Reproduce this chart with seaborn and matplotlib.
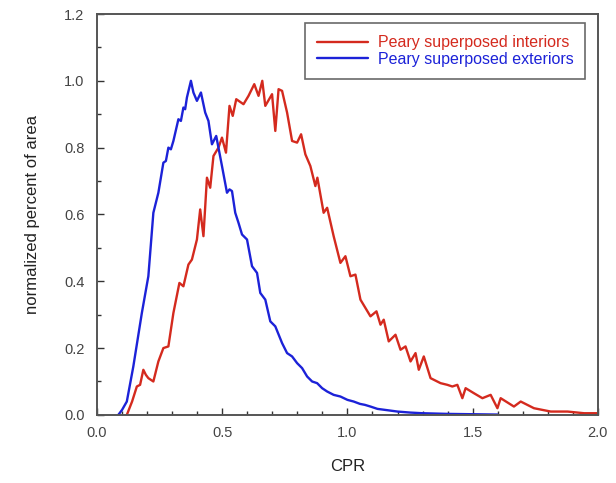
import matplotlib
matplotlib.use("Agg")
import matplotlib.pyplot as plt
import seaborn as sns
import pandas as pd
from matplotlib.ticker import MultipleLocator

sns.set_style("ticks")
plt.rcParams['font.family'] = ['Liberation Sans', 'DejaVu Sans']

exterior_x = [0.085, 0.10, 0.119, 0.145, 0.179, 0.205, 0.225, 0.245, 0.265, 0.275, 0.285, 0.295,
              0.305, 0.325, 0.335, 0.345, 0.352, 0.359, 0.375, 0.385, 0.399, 0.415, 0.432, 0.445,
              0.459, 0.476, 0.499, 0.519, 0.529, 0.539, 0.552, 0.565, 0.579, 0.599, 0.619, 0.639,
              0.652, 0.672, 0.692, 0.712, 0.739, 0.759, 0.779, 0.799, 0.819, 0.839, 0.859, 0.879,
              0.899, 0.919, 0.945, 0.972, 1.0, 1.025, 1.05, 1.07, 1.092, 1.12, 1.15, 1.2, 1.25,
              1.3, 1.35, 1.4, 1.5, 1.6]
exterior_y = [0.0, 0.015, 0.04, 0.145, 0.305, 0.415, 0.605, 0.665, 0.755, 0.76, 0.80, 0.795,
              0.82, 0.885, 0.88, 0.92, 0.915, 0.95, 1.0, 0.965, 0.94, 0.965, 0.905, 0.88,
              0.81, 0.835, 0.745, 0.665, 0.675, 0.67, 0.605, 0.575, 0.54, 0.525, 0.445, 0.425,
              0.365, 0.345, 0.28, 0.265, 0.215, 0.185, 0.175, 0.155, 0.14, 0.115, 0.10, 0.095,
              0.08, 0.07, 0.06, 0.055, 0.045, 0.04, 0.033, 0.03, 0.025, 0.018, 0.015, 0.01, 0.007,
              0.005, 0.004, 0.003, 0.002, 0.001]

interior_x = [0.119, 0.14, 0.159, 0.172, 0.185, 0.195, 0.205, 0.225, 0.245, 0.265, 0.285, 0.305,
              0.329, 0.345, 0.365, 0.379, 0.399, 0.412, 0.425, 0.439, 0.452, 0.465, 0.485, 0.499,
              0.515, 0.529, 0.542, 0.556, 0.585, 0.605, 0.628, 0.645, 0.66, 0.672, 0.699, 0.712,
              0.725, 0.739, 0.759, 0.779, 0.799, 0.815, 0.832, 0.852, 0.872, 0.88, 0.905, 0.919,
              0.945, 0.972, 0.992, 1.012, 1.032, 1.052, 1.092, 1.116, 1.132, 1.145, 1.165, 1.192,
              1.212, 1.232, 1.252, 1.272, 1.285, 1.305, 1.332, 1.372, 1.399, 1.419, 1.439, 1.459,
              1.472, 1.505, 1.539, 1.572, 1.599, 1.612, 1.665, 1.692, 1.745, 1.812, 1.879, 1.945, 2.0]
interior_y = [0.0, 0.04, 0.085, 0.09, 0.135, 0.12, 0.11, 0.10, 0.16, 0.20, 0.205, 0.305,
              0.395, 0.385, 0.45, 0.465, 0.525, 0.615, 0.535, 0.71, 0.68, 0.775, 0.80, 0.83,
              0.785, 0.925, 0.895, 0.945, 0.93, 0.955, 0.99, 0.955, 1.0, 0.925, 0.96, 0.85,
              0.975, 0.97, 0.905, 0.82, 0.815, 0.84, 0.78, 0.745, 0.685, 0.71, 0.605, 0.62,
              0.535, 0.455, 0.475, 0.415, 0.42, 0.345, 0.295, 0.31, 0.27, 0.285, 0.22, 0.24,
              0.195, 0.205, 0.16, 0.185, 0.135, 0.175, 0.11, 0.095, 0.09, 0.085, 0.09, 0.05,
              0.08, 0.065, 0.05, 0.06, 0.02, 0.05, 0.025, 0.04, 0.02, 0.01, 0.01, 0.005, 0.005]

labels = ["Peary superposed interiors", "Peary superposed exteriors"]
colors = ["#d42a1e", "#1c22d8"]

df = pd.concat([
    pd.DataFrame({"CPR": interior_x, "val": interior_y, "series": labels[0]}),
    pd.DataFrame({"CPR": exterior_x, "val": exterior_y, "series": labels[1]}),
])

fig = plt.figure(figsize=(6.16, 4.83), dpi=100)
ax = fig.add_axes([0.1575, 0.141, 0.813, 0.830])
sns.lineplot(data=df, x="CPR", y="val", hue="series", palette=dict(zip(labels, colors)),
             sort=False, estimator=None, linewidth=1.7, ax=ax)

ax.set_xlim(0, 2.0)
ax.set_ylim(0, 1.2)
ax.xaxis.set_major_locator(MultipleLocator(0.5))
ax.xaxis.set_minor_locator(MultipleLocator(0.1))
ax.yaxis.set_major_locator(MultipleLocator(0.2))
ax.yaxis.set_minor_locator(MultipleLocator(0.1))
ax.xaxis.set_major_formatter(plt.FuncFormatter(lambda v, p: f"{v:.1f}"))
ax.yaxis.set_major_formatter(plt.FuncFormatter(lambda v, p: f"{v:.1f}"))
ax.tick_params(which="both", direction="in", colors="#333333", labelcolor="#444444", labelsize=10.5)
ax.tick_params(which="major", length=5, width=1)
ax.tick_params(which="minor", length=3, width=1)
ax.tick_params(axis="x", pad=8)
ax.tick_params(axis="y", pad=9)
for s in ax.spines.values():
    s.set_color("#555555")
    s.set_linewidth(1.4)

ax.set_xlabel("CPR", fontsize=12, color="#222222", labelpad=14)
ax.set_ylabel("normalized percent of area", fontsize=12, color="#222222", labelpad=17)

leg = ax.legend(loc="upper right", bbox_to_anchor=(0.975, 0.977), borderaxespad=0,
                fontsize=11.5, frameon=True, fancybox=False, handlelength=3.2,
                handletextpad=0.6, borderpad=0.75, labelspacing=0.1)
leg.get_frame().set_edgecolor("#444444")
leg.get_frame().set_linewidth(1.2)
for t, c in zip(leg.get_texts(), colors):
    t.set_color(c)

fig.savefig("out.png", dpi=100)
